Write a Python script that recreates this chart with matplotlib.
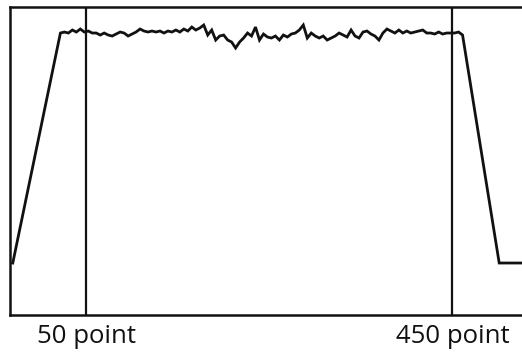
import numpy as np
import matplotlib.pyplot as plt

# ramp up, noisy plateau, ramp down (x in points, y in arbitrary units)
ramp_up_x = [-30, 22]
ramp_up_y = [52, 282]

plateau_y = [282, 283, 282, 285, 283, 286, 283, 284, 282, 282, 280, 282, 280, 279,
             281, 283, 282, 279, 281, 283, 286, 284, 283, 284, 283, 284, 282, 284,
             283, 285, 283, 286, 284, 288, 285, 287, 290, 280, 285, 275, 279, 280,
             275, 273, 267, 273, 277, 282, 279, 288, 275, 281, 278, 277, 279, 275,
             280, 278, 281, 282, 285, 290, 277, 282, 279, 277, 279, 275, 277, 279,
             282, 280, 278, 285, 279, 277, 283, 284, 281, 279, 275, 282, 286, 284,
             282, 285, 282, 284, 282, 283, 284, 285, 282, 282, 281, 283, 281, 282,
             282, 282, 283, 280]
plateau_x0, plateau_x1 = 22, 461

ramp_down_x = [461, 501, 526]
ramp_down_y = [280, 52, 52]

marker_x = [50, 450]
marker_labels = ['50 point', '450 point']

plateau_x = np.linspace(plateau_x0, plateau_x1, len(plateau_y))
x = np.concatenate([ramp_up_x[:1], plateau_x, ramp_down_x[1:]])
y = np.concatenate([ramp_up_y[:1], plateau_y, ramp_down_y[1:]])

fig = plt.figure(figsize=(5.22, 3.53), dpi=100)
ax = fig.add_axes([0.0192, 0.1076, 0.981, 0.8725])
ax.plot(x, y, color='#111111', lw=2.0, solid_joinstyle='miter')
for mx in marker_x:
    ax.axvline(mx, color='#111111', lw=1.6)

ax.set_xlim(-33, 526)
ax.set_ylim(0, 308)
ax.set_yticks([])
ax.set_xticks(marker_x)
ax.set_xticklabels(marker_labels, fontsize=18.5, color='#111111',
                   family=['Open Sans', 'DejaVu Sans'])
ax.tick_params(axis='x', length=0, pad=6.5)
ax.spines['right'].set_visible(False)
for s in ax.spines.values():
    s.set_linewidth(1.8)
    s.set_color('#111111')

fig.savefig('out.png', dpi=100)
